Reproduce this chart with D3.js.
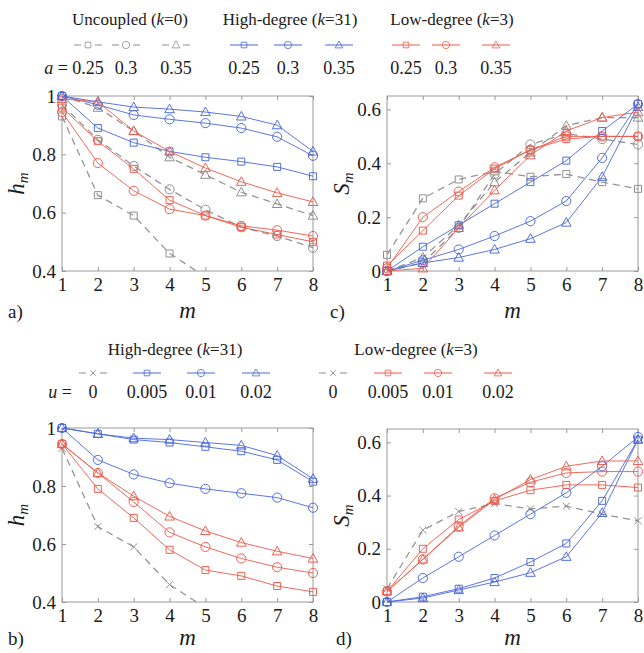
<!DOCTYPE html>
<html>
<head>
<meta charset="utf-8">
<script src="https://cdn.jsdelivr.net/npm/d3@7"></script>
<style>
body{margin:0;background:#fff;}
text{font-family:"Liberation Serif","DejaVu Serif","Times New Roman",Times,serif;fill:#1a1a1a;}
</style>
</head>
<body>
<svg id="fig"></svg>
<script>
// ---- data ----
var mVals = [1,2,3,4,5,6,7,8];
var aVals = [0.25, 0.3, 0.35];
var uVals = [0, 0.005, 0.01, 0.02];
var hTicks = [0.4, 0.6, 0.8, 1];
var sTicks = [0, 0.2, 0.4, 0.6];

// panel a) h_m, varying a
var hUnc25  = [0.93,0.66,0.59,0.46,0.38,0.33,0.29,0.26];
var hUnc30  = [0.97,0.85,0.76,0.68,0.61,0.55,0.52,0.48];
var hUnc35  = [1.00,0.96,0.88,0.79,0.73,0.67,0.63,0.59];
var hHigh25 = [1.00,0.89,0.84,0.81,0.79,0.775,0.757,0.725];
var hHigh30 = [1.00,0.97,0.935,0.92,0.907,0.89,0.86,0.795];
var hHigh35 = [1.00,0.98,0.962,0.955,0.945,0.93,0.90,0.81];
var hLow25  = [0.96,0.845,0.75,0.643,0.59,0.55,0.525,0.50];
var hLow30  = [0.945,0.77,0.675,0.612,0.59,0.555,0.54,0.52];
var hLow35  = [0.99,0.98,0.88,0.81,0.753,0.706,0.668,0.637];

// panel c) S_m, varying a
var sUnc25  = [0.06,0.27,0.34,0.37,0.35,0.36,0.33,0.305];
var sUnc30  = [0.00,0.03,0.16,0.36,0.47,0.51,0.49,0.47];
var sUnc35  = [0.00,0.05,0.17,0.33,0.44,0.54,0.57,0.57];
var sHigh25 = [0.00,0.09,0.17,0.25,0.33,0.41,0.52,0.62];
var sHigh30 = [0.00,0.04,0.08,0.13,0.185,0.26,0.42,0.62];
var sHigh35 = [0.00,0.03,0.05,0.08,0.12,0.18,0.35,0.61];
var sLow25  = [0.02,0.15,0.28,0.38,0.45,0.49,0.50,0.50];
var sLow30  = [0.01,0.20,0.295,0.385,0.45,0.50,0.50,0.50];
var sLow35  = [0.00,0.01,0.16,0.30,0.43,0.52,0.57,0.59];

// panel b) h_m, varying u
var hU0       = [0.93,0.66,0.59,0.46,0.38,0.33,0.29,0.26];
var hHighU005 = [1.00,0.98,0.96,0.95,0.935,0.92,0.89,0.815];
var hHighU01  = [1.00,0.89,0.84,0.81,0.79,0.775,0.76,0.725];
var hHighU02  = [1.00,0.98,0.965,0.96,0.95,0.94,0.905,0.825];
var hLowU005  = [0.945,0.79,0.69,0.58,0.51,0.49,0.455,0.435];
var hLowU01   = [0.945,0.845,0.745,0.64,0.59,0.55,0.52,0.50];
var hLowU02   = [0.945,0.845,0.765,0.695,0.645,0.605,0.575,0.55];

// panel d) S_m, varying u
var sU0       = [0.05,0.27,0.34,0.37,0.35,0.36,0.33,0.305];
var sHighU005 = [0.00,0.02,0.05,0.09,0.15,0.22,0.38,0.61];
var sHighU01  = [0.00,0.09,0.17,0.25,0.33,0.41,0.51,0.62];
var sHighU02  = [0.00,0.015,0.045,0.075,0.11,0.17,0.335,0.61];
var sLowU005  = [0.04,0.20,0.31,0.38,0.42,0.44,0.44,0.43];
var sLowU01   = [0.04,0.16,0.285,0.39,0.45,0.485,0.49,0.49];
var sLowU02   = [0.04,0.16,0.28,0.385,0.46,0.51,0.53,0.53];

// ---- styles ----
var FONT = "Liberation Serif, DejaVu Serif, serif";
var GRAY = "#8a8a8a", BLUE = "#4a68dc", RED = "#ee5a4a";
var shapes = ["square","circle","triangle"];

function markerPath(shape){
    if(shape=="square") return "M-3.5,-3.5h7v7h-7z";
    if(shape=="circle") return d3.symbol().type(d3.symbolCircle).size(66)();
    if(shape=="triangle") return "M0,-5L4.8,3.6L-4.8,3.6z";
    return "M-3.5,-3.5L3.5,3.5M-3.5,3.5L3.5,-3.5"; // x
}

var svg = d3.select("#fig").attr("width", 644).attr("height", 653);

function panel(cfg){
    var x = d3.scaleLinear().domain([1,8]).range([cfg.left, cfg.right]);
    var y = d3.scaleLinear().domain(cfg.yDomain).range([cfg.bottom, cfg.top]);
    var g = svg.append("g");
    var clipId = "clip" + cfg.letter;
    svg.append("clipPath").attr("id", clipId).append("rect")
        .attr("x", cfg.left).attr("y", cfg.top)
        .attr("width", cfg.right-cfg.left).attr("height", cfg.bottom-cfg.top);

    // box + ticks
    var axisCol = "#9a9a9a";
    g.append("rect").attr("x", cfg.left).attr("y", cfg.top)
        .attr("width", cfg.right-cfg.left).attr("height", cfg.bottom-cfg.top)
        .attr("fill","none").attr("stroke",axisCol).attr("stroke-width",1);
    var xa = g.append("g").attr("transform","translate(0,"+cfg.bottom+")")
        .call(d3.axisBottom(x).tickValues(mVals).tickSize(-4).tickPadding(7).tickFormat(d3.format("d")));
    var xt = g.append("g").attr("transform","translate(0,"+cfg.top+")")
        .call(d3.axisTop(x).tickValues(mVals).tickSize(-4).tickFormat(""));
    var ya = g.append("g").attr("transform","translate("+cfg.left+",0)")
        .call(d3.axisLeft(y).tickValues(cfg.yTicks).tickSize(-4).tickPadding(6).tickFormat(function(d){return String(d);}));
    var yr = g.append("g").attr("transform","translate("+cfg.right+",0)")
        .call(d3.axisRight(y).tickValues(cfg.yTicks).tickSize(-4).tickFormat(""));
    [xa,xt,ya,yr].forEach(function(a){
        a.attr("font-family", FONT);
        a.select(".domain").remove();
        a.selectAll("line").attr("stroke",axisCol);
        a.selectAll("text").attr("font-size",19).attr("fill","#1a1a1a");
    });

    // series
    var line = d3.line().x(function(d,i){return x(mVals[i]);}).y(function(d){return y(d);});
    cfg.series.forEach(function(s){
        g.append("path").datum(s.values)
            .attr("clip-path","url(#"+clipId+")")
            .attr("d", line).attr("fill","none")
            .attr("stroke", s.color).attr("stroke-width", s.dash ? 1.3 : 1)
            .attr("stroke-dasharray", s.dash ? "7,5" : null)
            .attr("opacity", 0.9);
        g.selectAll(null).data(s.values.map(function(v,i){return {m:mVals[i], v:v};})
                .filter(function(p){return p.v >= cfg.yDomain[0] && p.v <= cfg.yDomain[1];}))
            .enter().append("path")
            .attr("transform", function(p){return "translate("+x(p.m)+","+y(p.v)+")";})
            .attr("d", markerPath(s.shape))
            .attr("fill","none").attr("stroke", s.color).attr("stroke-width",1).attr("opacity",0.95);
    });

    // labels
    var yl = svg.append("text").attr("transform","translate("+cfg.ylabX+","+((cfg.top+cfg.bottom)/2)+") rotate(-90)")
        .attr("text-anchor","middle").attr("font-size",23);
    yl.append("tspan").attr("font-style","italic").text(cfg.ylabel);
    yl.append("tspan").attr("font-style","italic").attr("font-size",15).attr("dy",4).text("m");
    svg.append("text").attr("x",(cfg.left+cfg.right)/2).attr("y",cfg.labY)
        .attr("text-anchor","middle").attr("font-size",23).attr("font-style","italic").text("m");
    svg.append("text").attr("x",cfg.letterX).attr("y",cfg.labY)
        .attr("font-size",19).text(cfg.letter+")");
}

function series(vals, color, shape, dash){
    return {values: vals, color: color, shape: shape, dash: dash};
}

panel({letter:"a", left:62, right:313, top:96, bottom:271, labY:318, yDomain:[0.4,1], yTicks:hTicks, ylabel:"h", ylabX:24, letterX:8,
    series:[series(hUnc25,GRAY,"square",true), series(hUnc30,GRAY,"circle",true), series(hUnc35,GRAY,"triangle",true),
            series(hHigh25,BLUE,"square"), series(hHigh30,BLUE,"circle"), series(hHigh35,BLUE,"triangle"),
            series(hLow25,RED,"square"), series(hLow30,RED,"circle"), series(hLow35,RED,"triangle")]});
panel({letter:"c", left:387, right:638, top:96, bottom:271, labY:318, yDomain:[0,0.65], yTicks:sTicks, ylabel:"S", ylabX:349, letterX:330,
    series:[series(sUnc25,GRAY,"square",true), series(sUnc30,GRAY,"circle",true), series(sUnc35,GRAY,"triangle",true),
            series(sHigh25,BLUE,"square"), series(sHigh30,BLUE,"circle"), series(sHigh35,BLUE,"triangle"),
            series(sLow25,RED,"square"), series(sLow30,RED,"circle"), series(sLow35,RED,"triangle")]});
panel({letter:"b", left:62, right:313, top:428, bottom:602, labY:645, yDomain:[0.4,1], yTicks:hTicks, ylabel:"h", ylabX:24, letterX:8,
    series:[series(hU0,GRAY,"x",true),
            series(hHighU005,BLUE,"square"), series(hHighU01,BLUE,"circle"), series(hHighU02,BLUE,"triangle"),
            series(hLowU005,RED,"square"), series(hLowU01,RED,"circle"), series(hLowU02,RED,"triangle")]});
panel({letter:"d", left:387, right:638, top:429, bottom:602, labY:645, yDomain:[0,0.65], yTicks:sTicks, ylabel:"S", ylabX:349, letterX:336,
    series:[series(sU0,GRAY,"x",true),
            series(sHighU005,BLUE,"square"), series(sHighU01,BLUE,"circle"), series(sHighU02,BLUE,"triangle"),
            series(sLowU005,RED,"square"), series(sLowU01,RED,"circle"), series(sLowU02,RED,"triangle")]});

// ---- legends ----
function legendTitle(cx, cy, name, k){
    var t = svg.append("text").attr("x",cx).attr("y",cy).attr("text-anchor","middle").attr("font-size",17);
    t.append("tspan").text(name+" (");
    t.append("tspan").attr("font-style","italic").text("k");
    t.append("tspan").text("="+k+")");
}
function legendEntry(cx, my, ty, color, shape, dash, label){
    var lg = svg.append("g");
    if(dash){
        lg.append("line").attr("x1",cx-14).attr("x2",cx-7).attr("y1",my).attr("y2",my).attr("stroke",color);
        lg.append("line").attr("x1",cx+7).attr("x2",cx+14).attr("y1",my).attr("y2",my).attr("stroke",color);
    } else {
        lg.append("line").attr("x1",cx-14).attr("x2",cx+14).attr("y1",my).attr("y2",my).attr("stroke",color);
    }
    lg.append("path").attr("transform","translate("+cx+","+my+")scale(0.8)").attr("d",markerPath(shape))
        .attr("fill","none").attr("stroke",color);
    svg.append("text").attr("x",cx).attr("y",ty).attr("text-anchor","middle").attr("font-size",18).text(label);
}
function varLabel(xr, y, v){
    var t = svg.append("text").attr("x",xr).attr("y",y).attr("text-anchor","end").attr("font-size",18);
    t.append("tspan").attr("font-style","italic").text(v);
    t.append("tspan").text(" =");
}

// top legend (a)
legendTitle(130, 25, "Uncoupled", 0);
legendTitle(290, 25, "High-degree", 31);
legendTitle(452, 25, "Low-degree", 3);
var topX = [[88,126,176],[244,288,339],[406,446,496]];
var topCols = [GRAY, BLUE, RED];
topCols.forEach(function(c, gi){
    aVals.forEach(function(a, i){
        legendEntry(topX[gi][i], 45, 74, c, shapes[i], gi==0, String(a));
    });
});
varLabel(68, 74, "a");

// bottom legend (u)
legendTitle(175, 355, "High-degree", 31);
legendTitle(416, 355, "Low-degree", 3);
var botX = [[93,147,201,256],[333,388,438,498]];
[BLUE, RED].forEach(function(c, gi){
    uVals.forEach(function(u, i){
        if(i==0) legendEntry(botX[gi][i], 373, 398, GRAY, "x", true, String(u));
        else legendEntry(botX[gi][i], 373, 398, c, shapes[i-1], false, String(u));
    });
});
varLabel(72, 398, "u");
</script>
</body>
</html>
